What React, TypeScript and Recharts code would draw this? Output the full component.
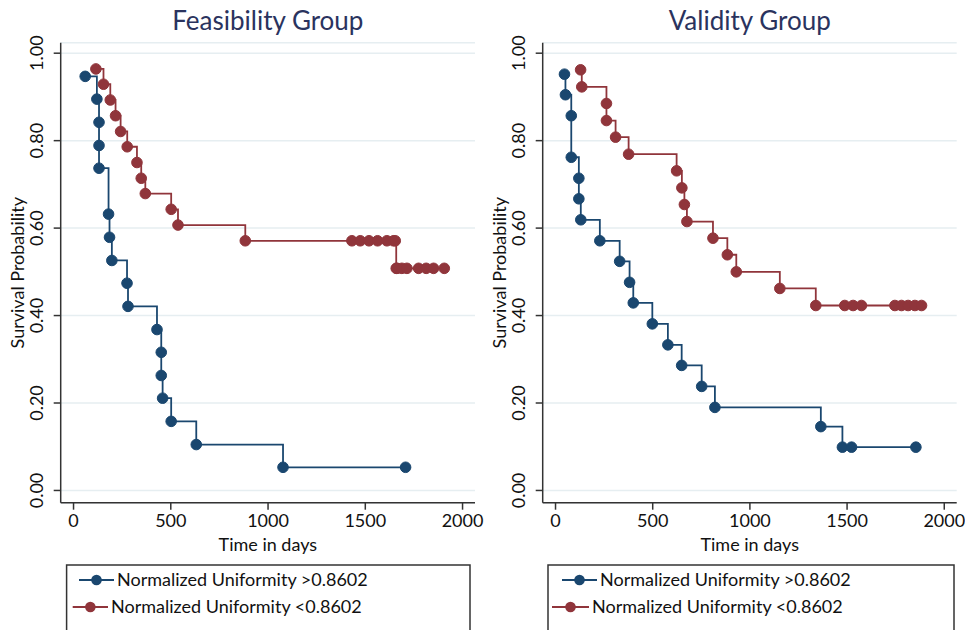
import React from 'react';
import { LineChart, Line, XAxis, YAxis, CartesianGrid } from 'recharts';

// ---- Data ----
const xTicks = [0, 500, 1000, 1500, 2000];
const yTicks = [0, 0.2, 0.4, 0.6, 0.8, 1.0];

const panelTitles = ['Feasibility Group', 'Validity Group'];
const seriesNames = ['Normalized Uniformity >0.8602', 'Normalized Uniformity <0.8602'];

const feasHighT = [60, 120, 131, 131, 131, 180, 185, 197, 275, 280, 429, 451, 451, 458, 502, 631, 1077, 1707];
const feasHighS = [0.947, 0.895, 0.842, 0.789, 0.737, 0.632, 0.579, 0.526, 0.474, 0.421, 0.368, 0.316, 0.263, 0.211, 0.158, 0.105, 0.053, 0.053];

const feasLowT = [115, 154, 189, 216, 242, 276, 326, 348, 369, 502, 537, 883, 1431, 1474, 1519, 1563, 1611, 1645, 1654, 1659, 1663, 1688, 1714, 1774, 1813, 1851, 1906];
const feasLowS = [0.964, 0.929, 0.893, 0.857, 0.821, 0.786, 0.75, 0.714, 0.679, 0.643, 0.607, 0.571, 0.571, 0.571, 0.571, 0.571, 0.571, 0.571, 0.571, 0.508, 0.508, 0.508, 0.508, 0.508, 0.508, 0.508, 0.508];

const valHighT = [46, 51, 81, 81, 120, 120, 130, 228, 330, 381, 400, 498, 578, 649, 752, 820, 1365, 1476, 1523, 1854];
const valHighS = [0.952, 0.905, 0.857, 0.762, 0.714, 0.667, 0.619, 0.571, 0.524, 0.476, 0.429, 0.381, 0.333, 0.286, 0.238, 0.19, 0.146, 0.099, 0.099, 0.099];

const valLowT = [129, 135, 262, 262, 309, 376, 623, 650, 663, 676, 810, 884, 930, 1154, 1339, 1488, 1531, 1574, 1746, 1780, 1814, 1849, 1883];
const valLowS = [0.962, 0.923, 0.885, 0.846, 0.808, 0.769, 0.731, 0.692, 0.654, 0.615, 0.577, 0.539, 0.5, 0.462, 0.423, 0.423, 0.423, 0.423, 0.423, 0.423, 0.423, 0.423, 0.423];

const toRows = (T: number[], S: number[]) => T.map((t, i) => ({ t, s: S[i] }));

const BLUE = '#1a476f';
const RED = '#90353b';
const FONT = 'Lato, "Open Sans", sans-serif';
const TITLE_COLOR = '#2a335e';
const FS = 18;

const YTick = (props: any) => {
  const { x, y, payload } = props;
  const cx = x - 8.2;
  return (
    <text x={cx} y={y} transform={`rotate(-90 ${cx} ${y})`} textAnchor="middle" fontSize={FS} fontFamily={FONT} fill="#111">
      {Number(payload.value).toFixed(2)}
    </text>
  );
};

const CHART_H = 560;
const MARGIN_TOP = 42.7;
const Y_W = 60.7;
const X_H = 57.3;

function Panel({ left, width, rightMargin, title, high, low }: any) {
  const plotLeft = left + Y_W;
  const plotRight = left + width - rightMargin;
  const plotCx = (plotLeft + plotRight) / 2;
  const plotCy = (MARGIN_TOP + (CHART_H - X_H)) / 2;
  return (
    <>
      <div style={{ position: 'absolute', left, top: 0, width, height: CHART_H }}>
        <LineChart width={width} height={CHART_H} margin={{ top: MARGIN_TOP, right: rightMargin, left: 0, bottom: 0 }}>
          <CartesianGrid vertical={false} stroke="#e6eef1" strokeWidth={1.5} />
          <XAxis
            type="number"
            dataKey="t"
            domain={[-66, 2064]}
            allowDataOverflow
            ticks={xTicks}
            height={X_H}
            tickSize={7}
            tickMargin={5}
            stroke="#333"
            strokeWidth={1.5}
            tick={{ fontSize: FS, fontFamily: FONT, fill: '#111' }}
          />
          <YAxis
            type="number"
            domain={[-0.028, 1.024]}
            allowDataOverflow
            ticks={yTicks}
            width={Y_W}
            tickSize={7}
            tickMargin={2}
            stroke="#333"
            strokeWidth={1.5}
            tick={<YTick />}
          />
          <Line data={high} dataKey="s" type="stepAfter" stroke={BLUE} strokeWidth={1.8}
            dot={{ r: 5.3, fill: BLUE, stroke: BLUE, strokeWidth: 1 }} isAnimationActive={false} />
          <Line data={low} dataKey="s" type="stepAfter" stroke={RED} strokeWidth={1.8}
            dot={{ r: 5.3, fill: RED, stroke: RED, strokeWidth: 1 }} isAnimationActive={false} />
        </LineChart>
      </div>
      <svg style={{ position: 'absolute', left: 0, top: 0, pointerEvents: 'none' }} width={965} height={630}>
        <text x={plotCx} y={30} textAnchor="middle" fontSize={26} fontFamily={FONT} fill={TITLE_COLOR}>{title}</text>
        <text x={plotCx} y={551} textAnchor="middle" fontSize={FS} fontFamily={FONT} fill="#111">Time in days</text>
        <text x={left + 24} y={plotCy} transform={`rotate(-90 ${left + 24} ${plotCy})`} textAnchor="middle" fontSize={FS} fontFamily={FONT} fill="#111">Survival Probability</text>
      </svg>
    </>
  );
}

function LegendBox({ x1, x2, items }: any) {
  return (
    <svg style={{ position: 'absolute', left: 0, top: 0, pointerEvents: 'none' }} width={965} height={630}>
      <rect x={x1} y={565} width={x2 - x1} height={80} fill="white" stroke="#333" strokeWidth={1.5} />
      {items.map((it: any, i: number) => (
        <g key={i}>
          <line x1={it.lx1} x2={it.lx2} y1={it.y} y2={it.y} stroke={it.color} strokeWidth={2} />
          <circle cx={(it.lx1 + it.lx2) / 2} cy={it.y} r={5.3} fill={it.color} />
          <text x={it.lx2 + 3} y={it.y + 6} fontSize={FS} fontFamily={FONT} fill="#111">{it.label}</text>
        </g>
      ))}
    </svg>
  );
}

export default function App() {
  return (
    <div style={{ position: 'absolute', left: 0, top: 0, width: 965, height: 630, overflow: 'hidden', background: 'white' }}>
      <Panel left={0} width={485} rightMargin={10} title={panelTitles[0]} high={toRows(feasHighT, feasHighS)} low={toRows(feasLowT, feasLowS)} />
      <Panel left={482} width={483} rightMargin={8.3} title={panelTitles[1]} high={toRows(valHighT, valHighS)} low={toRows(valLowT, valLowS)} />
      <LegendBox x1={66.6} x2={470} items={[
        { lx1: 79, lx2: 114, y: 580, color: BLUE, label: seriesNames[0] },
        { lx1: 72.7, lx2: 108, y: 607, color: RED, label: seriesNames[1] },
      ]} />
      <LegendBox x1={548} x2={954} items={[
        { lx1: 562, lx2: 597, y: 580, color: BLUE, label: seriesNames[0] },
        { lx1: 552, lx2: 589, y: 607, color: RED, label: seriesNames[1] },
      ]} />
    </div>
  );
}
